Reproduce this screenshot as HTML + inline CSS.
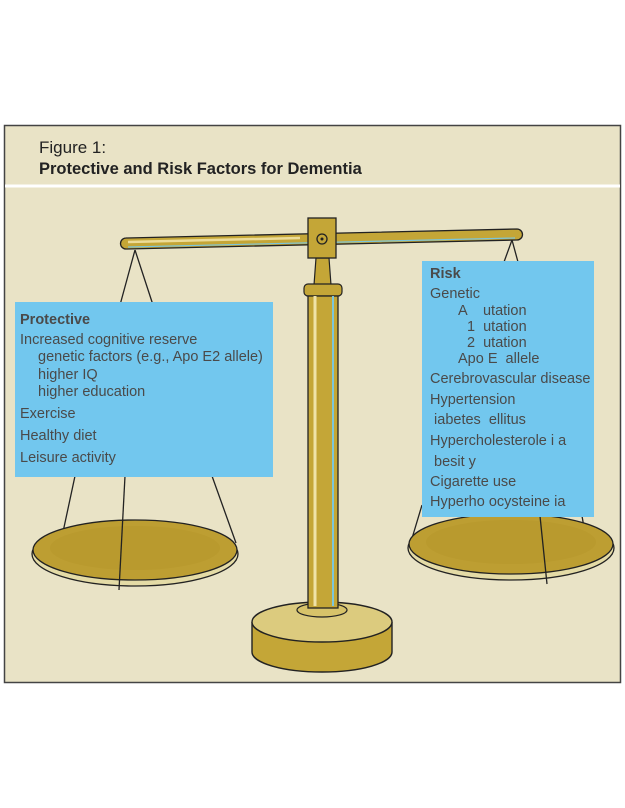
<!DOCTYPE html>
<html><head><meta charset="utf-8"><style>
body{margin:0;background:#fff;width:625px;height:808px;overflow:hidden}
svg{display:block}
text{font-family:"Liberation Sans",sans-serif;fill:#4a4a4a}
</style></head><body>
<svg width="625" height="808" viewBox="0 0 625 808">
<rect x="4.5" y="125.5" width="616" height="557" fill="#e9e3c6" stroke="#444" stroke-width="1.5"/>
<line x1="5" y1="186" x2="620" y2="186" stroke="#fff" stroke-width="3"/>
<text x="39" y="153" font-size="17" style="fill:#222">Figure 1:</text>
<text x="39" y="174" font-size="16.5" font-weight="bold" style="fill:#222">Protective and Risk Factors for Dementia</text>
<!-- strings -->
<g stroke="#222" stroke-width="1.3" fill="none">
<line x1="135" y1="250" x2="120" y2="305"/><line x1="135" y1="250" x2="153" y2="305"/>
<line x1="75" y1="476" x2="63" y2="532"/><line x1="212" y1="476" x2="236" y2="543"/>
<line x1="512" y1="240" x2="504" y2="262"/><line x1="512" y1="240" x2="518" y2="262"/>
<line x1="422" y1="505" x2="410" y2="545"/><line x1="582" y1="516" x2="585" y2="533"/>
</g>
<!-- beam -->
<path d="M126 238 L517 229 A5 5 0 0 1 517 240 L126 249 A5.5 5.5 0 0 1 126 238 Z" fill="#c4a637" stroke="#222" stroke-width="1.3"/>
<line x1="128" y1="242" x2="300" y2="238" stroke="#ecdc98" stroke-width="2.5"/>
<line x1="128" y1="247" x2="515" y2="238" stroke="#7cc6dc" stroke-width="1.2"/>
<!-- pivot -->
<path d="M316 258 L329 258 L331 285 L314 285 Z" fill="#c4a637" stroke="#222" stroke-width="1.2"/>
<rect x="308" y="218" width="28" height="40" fill="#c4a637" stroke="#222" stroke-width="1.3"/>
<circle cx="322" cy="239" r="5" fill="none" stroke="#222" stroke-width="1.3"/><circle cx="322" cy="239" r="1.5" fill="#222"/>
<rect x="304" y="284" width="38" height="12" rx="4" fill="#c4a637" stroke="#222" stroke-width="1.2"/>
<!-- base -->
<path d="M252 622 L252 652 A70 20 0 0 0 392 652 L392 622" fill="#c4a637" stroke="#222" stroke-width="1.4"/>
<ellipse cx="322" cy="622" rx="70" ry="20" fill="#dccb7e" stroke="#222" stroke-width="1.4"/>
<ellipse cx="322" cy="610" rx="25" ry="7" fill="#d7c36a" stroke="#222" stroke-width="1.2"/>
<rect x="308" y="296" width="30" height="312" fill="#c4a637" stroke="#222" stroke-width="1.3"/>
<line x1="315" y1="296" x2="315" y2="606" stroke="#efe3a8" stroke-width="3"/>
<line x1="333" y1="296" x2="333" y2="606" stroke="#7cc6dc" stroke-width="2"/>
<!-- pans -->
<ellipse cx="135" cy="554" rx="103" ry="32" fill="#e4dba6" stroke="#222" stroke-width="1.3"/>
<ellipse cx="135" cy="550" rx="102" ry="30" fill="#bd9e32" stroke="#222" stroke-width="1.3"/>
<ellipse cx="135" cy="548" rx="85" ry="22" fill="#b99a2e"/>
<line x1="125" y1="476" x2="119" y2="590" stroke="#222" stroke-width="1.3"/>
<ellipse cx="511" cy="548" rx="103" ry="32" fill="#e4dba6" stroke="#222" stroke-width="1.3"/>
<ellipse cx="511" cy="544" rx="102" ry="30" fill="#bd9e32" stroke="#222" stroke-width="1.3"/>
<ellipse cx="511" cy="542" rx="85" ry="22" fill="#b99a2e"/>
<line x1="540" y1="516" x2="547" y2="584" stroke="#222" stroke-width="1.3"/>
<!-- boxes -->
<rect x="15" y="302" width="258" height="175" fill="#72c7ee"/>
<g font-size="14.5">
<text x="20" y="324" font-weight="bold">Protective</text>
<text x="20" y="344">Increased cognitive reserve</text>
<text x="38" y="361">genetic factors (e.g., Apo E2 allele)</text>
<text x="38" y="379">higher IQ</text>
<text x="38" y="396">higher education</text>
<text x="20" y="418">Exercise</text>
<text x="20" y="440">Healthy diet</text>
<text x="20" y="462">Leisure activity</text>
</g>
<rect x="422" y="261" width="172" height="256" fill="#72c7ee"/>
<g font-size="14.5">
<text x="430" y="278" font-weight="bold">Risk</text>
<text x="430" y="298">Genetic</text>
<text x="458" y="315" xml:space="preserve">A    utation</text>
<text x="467" y="331" xml:space="preserve">1  utation</text>
<text x="467" y="347" xml:space="preserve">2  utation</text>
<text x="458" y="363" xml:space="preserve">Apo E  allele</text>
<text x="430" y="383">Cerebrovascular disease</text>
<text x="430" y="404">Hypertension</text>
<text x="430" y="424" xml:space="preserve"> iabetes  ellitus</text>
<text x="430" y="445">Hypercholesterole i a</text>
<text x="430" y="466" xml:space="preserve"> besit y</text>
<text x="430" y="486">Cigarette use</text>
<text x="430" y="506">Hyperho ocysteine ia</text>
</g>
</svg>
</body></html>
